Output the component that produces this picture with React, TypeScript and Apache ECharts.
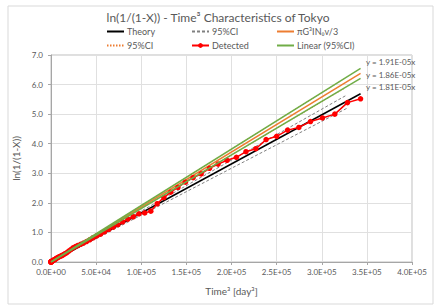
import React, { useEffect, useRef } from "react";
import * as echarts from "echarts";

// Detected data: day t and ln(1/(1-X)); x-axis is t^3
const detectedDays = [
  1, 2, 3, 4, 5, 6, 7, 8, 9, 10, 11, 12, 13, 14, 15, 16, 17, 18, 19, 20,
  21, 22, 23, 24, 25, 26, 27, 28, 29, 30, 31, 32, 33, 34, 35, 36, 37, 38, 39, 40,
  41, 42, 43, 44, 45, 46, 47, 48, 49, 50, 51, 52, 53, 54, 55, 56, 57, 58, 59, 60,
  61, 62, 63, 64, 65, 66, 67, 68, 69, 70,
];
const detectedValues = [
  0.0, 0.0, 0.0, 0.0, 0.01, 0.01, 0.01, 0.02, 0.02, 0.03, 0.03, 0.04, 0.05, 0.06, 0.07, 0.08, 0.1, 0.12, 0.14, 0.16,
  0.18, 0.2, 0.22, 0.25, 0.28, 0.32, 0.37, 0.42, 0.48, 0.52, 0.56, 0.6, 0.64, 0.69, 0.75, 0.82, 0.88, 0.94, 1.02, 1.1,
  1.18, 1.26, 1.36, 1.45, 1.53, 1.63, 1.66, 1.72, 1.97, 2.18, 2.36, 2.52, 2.7, 2.85, 2.98, 3.17, 3.31, 3.44, 3.54, 3.73,
  3.83, 4.14, 4.25, 4.46, 4.55, 4.75, 4.87, 5.0, 5.39, 5.52,
];

// Theory and its 95%CI (grey dashed)
const theoryX = [0, 343000];
const theoryY = [0, 5.69];
const theoryCiX = [0, 328000];
const theoryCiUpperY = [0, 5.65];
const theoryCiLowerY = [0, 5.2];

// πG³IN₀v/3 and its 95%CI (orange dotted)
const modelX = [0, 343000];
const modelY = [0, 6.38];
const modelCiX = [0, 100000, 200000, 325000];
const modelCiUpperY = [0, 1.91, 3.82, 6.2];
const modelCiLowerY = [0, 1.81, 3.62, 5.87];

// Linear trendlines of the 95%CI
const trendX = [0, 343000];
const trendUpperY = [0, 6.55];
const trendLowerY = [0, 6.21];
const trendLabels = ["y = 1.91E-05x", "y = 1.86E-05x", "y = 1.81E-05x"];

const xTicks = { min: 0, max: 400000, interval: 50000 };
const yTicks = { min: 0, max: 7, interval: 1 };

const FONT = "Lato";
const TXT = "#595959";

function pairs(xs: number[], ys: number[]) {
  return xs.map((x, i) => [x, ys[i]]);
}

function sci(v: number) {
  const [m, e] = v.toExponential(1).split("e");
  const sign = e[0] === "-" ? "-" : "+";
  const digits = e.replace(/[+-]/, "").padStart(2, "0");
  return `${m}E${sign}${digits}`;
}

const CI_GREY = "95%CI";
const CI_ORANGE = "95%CI\u200b";

export default function App() {
  const ref = useRef<HTMLDivElement>(null);
  useEffect(() => {
    if (!ref.current) return;
    const chart = echarts.init(ref.current, null, { renderer: "svg" });
    const lineSeries = (name: string, data: number[][], color: string, width: number, type: any, z = 2) => ({
      name,
      type: "line",
      data,
      showSymbol: false,
      symbol: "none",
      lineStyle: { color, width, type },
      itemStyle: { color },
      z,
      silent: true,
    });
    const noMark = (name: string) => ({ name, itemStyle: { opacity: 0 } });
    const legendBase = {
      orient: "vertical" as const,
      top: 22,
      itemWidth: 17,
      itemHeight: 6,
      itemGap: 5,
      textStyle: { fontFamily: FONT, fontSize: 9, color: TXT, padding: [0, 0, 0, -2] },
      formatter: (n: string) => n.replace("\u200b", ""),
    };
    chart.setOption({
      animation: false,
      backgroundColor: "#ffffff",
      title: {
        text: "ln(1/(1-X)) - Time³ Characteristics of Tokyo",
        left: "center",
        top: 6,
        textStyle: { fontFamily: FONT, fontSize: 12, fontWeight: "normal", color: TXT },
      },
      legend: [
        { ...legendBase, left: 101, data: [noMark("Theory"), noMark(CI_ORANGE)] },
        { ...legendBase, left: 186, data: [noMark(CI_GREY), { name: "Detected" }] },
        { ...legendBase, left: 271, data: [noMark("πG³IN₀v/3"), noMark("Linear (95%CI)")] },
      ],
      grid: { left: 51, right: 24, top: 55, bottom: 44, show: true, borderColor: "#bfbfbf", borderWidth: 1 },
      xAxis: {
        type: "value",
        ...xTicks,
        name: "Time³ [day³]",
        nameLocation: "middle",
        nameGap: 24,
        nameTextStyle: { fontFamily: FONT, fontSize: 10, color: TXT },
        axisLine: { show: true, lineStyle: { color: "#a6a6a6" } },
        axisTick: { show: true, length: 3, lineStyle: { color: "#a6a6a6" } },
        axisLabel: { fontFamily: FONT, fontSize: 8, color: TXT, margin: 6, formatter: (v: number) => sci(v) },
        splitLine: { show: true, lineStyle: { color: "#e0e0e0" } },
      },
      yAxis: {
        type: "value",
        ...yTicks,
        name: "ln(1/(1-X))",
        nameLocation: "middle",
        nameGap: 29,
        nameTextStyle: { fontFamily: FONT, fontSize: 10, color: TXT },
        axisLine: { show: true, lineStyle: { color: "#a6a6a6" } },
        axisTick: { show: true, length: 3, lineStyle: { color: "#a6a6a6" } },
        axisLabel: { fontFamily: FONT, fontSize: 8, color: TXT, margin: 8, formatter: (v: number) => v.toFixed(1) },
        splitLine: { show: true, lineStyle: { color: "#e0e0e0" } },
      },
      series: [
        lineSeries(CI_ORANGE, pairs(modelCiX, modelCiUpperY), "#ED7D31", 1, [1.5, 1.5], 2),
        lineSeries(CI_ORANGE, pairs(modelCiX, modelCiLowerY), "#ED7D31", 1, [1.5, 1.5], 2),
        lineSeries(CI_GREY, pairs(theoryCiX, theoryCiUpperY), "#808080", 1, [3, 2], 3),
        lineSeries(CI_GREY, pairs(theoryCiX, theoryCiLowerY), "#808080", 1, [3, 2], 3),
        lineSeries("Theory", pairs(theoryX, theoryY), "#000000", 1.5, "solid", 4),
        lineSeries("πG³IN₀v/3", pairs(modelX, modelY), "#ED7D31", 1.5, "solid", 4),
        {
          name: "Detected",
          type: "line",
          data: detectedDays.map((d, i) => [d * d * d, detectedValues[i]]),
          symbol: "circle",
          symbolSize: 5.5,
          showSymbol: true,
          lineStyle: { color: "#FF0000", width: 1.5 },
          itemStyle: { color: "#FF0000" },
          z: 5,
          silent: true,
        },
        lineSeries("Linear (95%CI)", pairs(trendX, trendUpperY), "#70AD47", 1.5, "solid", 6),
        lineSeries("Linear (95%CI)", pairs(trendX, trendLowerY), "#70AD47", 1.5, "solid", 6),
      ],
      graphic: trendLabels.map((t, i) => ({
        type: "text",
        left: 366,
        top: 58 + i * 12.5,
        style: { text: t, fontFamily: FONT, fontSize: 8, fill: TXT },
        z: 10,
      })).concat([
        {
          type: "rect",
          left: 5.5,
          top: 3.5,
          shape: { width: 425, height: 298 },
          style: { fill: "none", stroke: "#d9d9d9", lineWidth: 1 },
          silent: true,
        } as any,
      ]),
    });
    return () => chart.dispose();
  }, []);
  return (
    <div
      ref={ref}
      style={{ position: "fixed", left: 0, top: 0, width: 436, height: 306 }}
    />
  );
}
